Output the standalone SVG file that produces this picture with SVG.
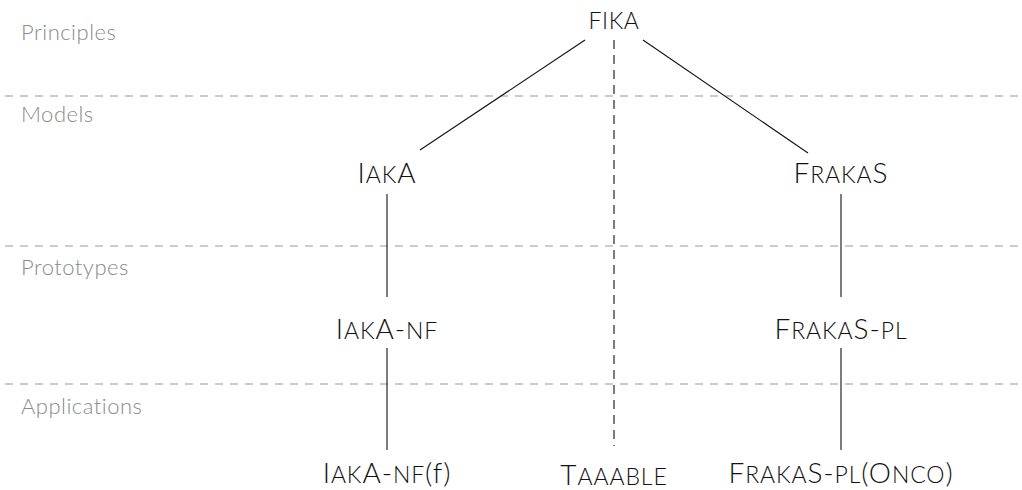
<svg xmlns="http://www.w3.org/2000/svg" width="1022" height="490" viewBox="0 0 1022 490">
<style>
.bg{fill:#ffffff}
.sep{stroke:#999999;stroke-width:1.2;stroke-dasharray:8 7;fill:none}
.cat{font-family:Lato,"Noto Sans","DejaVu Sans",sans-serif;font-weight:300;font-size:22px;letter-spacing:0.5px;fill:#8a8a8a}
.node{font-family:Lato,"Noto Sans","DejaVu Sans",sans-serif;font-weight:300;font-size:28px;fill:#111111;text-anchor:middle;letter-spacing:0.9px}
.top{font-size:23px;letter-spacing:0.6px}
.s{font-size:23px}
.edge{stroke:#111111;stroke-width:1.1;fill:none}
.dash{stroke:#111111;stroke-width:1.1;stroke-dasharray:9 6;fill:none}
</style>
<rect class="bg" x="0" y="0" width="1022" height="490"/>
<g id="layers">
<line class="sep" x1="5" y1="96" x2="1022" y2="96"/>
<line class="sep" x1="5" y1="246" x2="1022" y2="246"/>
<line class="sep" x1="5" y1="384" x2="1022" y2="384"/>
<text class="cat" x="21" y="40">Principles</text>
<text class="cat" x="21" y="122">Models</text>
<text class="cat" x="21" y="275">Prototypes</text>
<text class="cat" x="21" y="414">Applications</text>
</g>
<g id="connectors">
<line class="edge" x1="585" y1="40" x2="420" y2="150"/>
<line class="edge" x1="643" y1="40" x2="808" y2="153"/>
<line class="dash" x1="614" y1="40" x2="614" y2="446"/>
<line class="edge" x1="387" y1="194" x2="387" y2="297"/>
<line class="edge" x1="841" y1="194" x2="841" y2="297"/>
<line class="edge" x1="387" y1="348" x2="387" y2="450"/>
<line class="edge" x1="841" y1="348" x2="841" y2="450"/>
</g>
<g id="fika"><text class="node top" x="614" y="29">FIKA</text></g>
<g id="iaka"><text class="node" x="387" y="183">I<tspan class="s">AK</tspan>A</text></g>
<g id="frakas"><text class="node" x="841" y="183">F<tspan class="s">RAKA</tspan>S</text></g>
<g id="iaka-nf"><text class="node" x="387" y="339">I<tspan class="s">AK</tspan>A-<tspan class="s">NF</tspan></text></g>
<g id="frakas-pl"><text class="node" x="841" y="339">F<tspan class="s">RAKA</tspan>S-<tspan class="s">PL</tspan></text></g>
<g id="iaka-nf-f"><text class="node" x="387" y="483">I<tspan class="s">AK</tspan>A-<tspan class="s">NF</tspan>(f)</text></g>
<g id="taaable"><text class="node" x="614" y="485">T<tspan class="s">AAABLE</tspan></text></g>
<g id="frakas-pl-onco"><text class="node" x="841" y="483">F<tspan class="s">RAKA</tspan>S-<tspan class="s">PL</tspan>(O<tspan class="s">NCO</tspan>)</text></g>
</svg>
